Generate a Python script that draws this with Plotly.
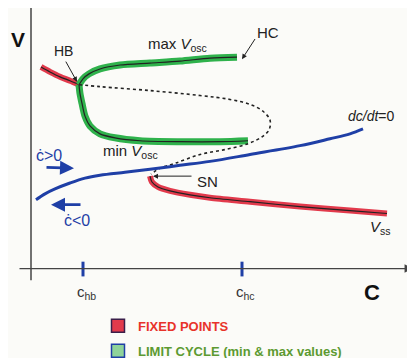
import plotly.graph_objects as go

# ---- data (c, V in arbitrary units) ----
fp_upper_c = [41, 50, 60, 70, 79]
fp_upper_v = [290, 285, 280, 276, 272]

lc_max_c = [79, 83, 89, 100, 120, 150, 180, 210, 237]
lc_max_v = [272, 278, 283, 288, 292, 294, 296, 299, 300]

lc_min_c = [79, 80, 82, 85, 90, 100, 115, 140, 180, 220, 248]
lc_min_v = [272, 263, 253, 240, 230, 222, 218, 215, 214, 214, 215]

unstable_c = [79, 100, 150, 200, 230, 250, 263, 270, 269, 262, 248, 225, 200, 175, 160, 151]
unstable_v = [272, 270, 266, 261, 257, 252, 245, 236, 226, 219, 212, 206, 201, 192, 187, 181]

nullcline_c = [36, 45, 55, 70, 85, 100, 125, 150, 180, 210, 250, 300, 330, 350, 363]
nullcline_v = [155, 161, 166, 172, 177, 180, 183, 186, 190, 194, 201, 210, 217, 222, 227]

fp_lower_c = [150, 152, 158, 170, 190, 210, 250, 300, 350, 387]
fp_lower_v = [179, 173, 168, 164, 160, 157, 153, 148, 144, 141]

tick_c = [83, 242]
tick_labels = ["c<sub>hb</sub>", "c<sub>hc</sub>"]

RED = "#e23a4c"
GREEN = "#2fb24c"
BLUE = "#1f3fa6"
DARK = "#222222"

fig = go.Figure()

def thick(c, v, color, w):
    fig.add_trace(go.Scatter(x=c, y=v, mode="lines",
                             line=dict(color=color, width=w, shape="spline", smoothing=0.8),
                             showlegend=False, hoverinfo="skip"))
    fig.add_trace(go.Scatter(x=c, y=v, mode="lines",
                             line=dict(color=DARK, width=1.2, shape="spline", smoothing=0.8),
                             showlegend=False, hoverinfo="skip"))

thick(fp_upper_c, fp_upper_v, RED, 6)
thick(fp_lower_c, fp_lower_v, RED, 6)
thick(lc_max_c, lc_max_v, GREEN, 7)
thick(lc_min_c, lc_min_v, GREEN, 7)

fig.add_trace(go.Scatter(x=unstable_c, y=unstable_v, mode="lines",
                         line=dict(color=DARK, width=1.6, dash="dot", shape="spline"),
                         showlegend=False, hoverinfo="skip"))
fig.add_trace(go.Scatter(x=nullcline_c, y=nullcline_v, mode="lines",
                         line=dict(color=BLUE, width=3, shape="spline"),
                         showlegend=False, hoverinfo="skip"))

# legend entries
fig.add_trace(go.Scatter(x=[None], y=[None], mode="markers",
                         marker=dict(symbol="square", size=13, color=RED, line=dict(color="#3a1f4a", width=1.5)),
                         name="<b><span style='color:#e8332a'>FIXED POINTS</span></b>", legendgroup="a"))
fig.add_trace(go.Scatter(x=[None], y=[None], mode="markers",
                         marker=dict(symbol="square", size=13, color="#8fd39a", line=dict(color=BLUE, width=1.5)),
                         name="<b><span style='color:#5c9a31'>LIMIT CYCLE (min &amp; max values)</span></b>", legendgroup="b"))

# axes drawn by hand
fig.add_shape(type="line", x0=31, x1=31, y0=73, y1=351, line=dict(color="#444", width=1.5))
fig.add_annotation(x=413, y=85, ax=18, ay=85, axref="x", ayref="y", xref="x", yref="y",
                   text="", showarrow=True, arrowhead=2, arrowsize=1.3, arrowwidth=1.3, arrowcolor="#444")
for c in tick_c:
    fig.add_shape(type="line", x0=c, x1=c, y0=77, y1=92, line=dict(color=BLUE, width=3))

F = "Liberation Sans, Arial, sans-serif"
for c, lab in zip(tick_c, tick_labels):
    fig.add_annotation(x=c + 3, y=61, text=lab, showarrow=False, font=dict(size=15, color="#333", family=F))

def txt(x, y, t, size=13, color="#222", **kw):
    fig.add_annotation(x=x, y=y, text=t, showarrow=False, font=dict(size=size, color=color, family=F), **kw)

txt(18, 318, "<b>V</b>", 21, "#111")
txt(372, 61, "<b>C</b>", 22, "#111")
txt(63, 306, "HB", 14)
txt(268, 325, "HC", 15)
txt(177, 313, "max <i>V</i><sub>osc</sub>", 15)
txt(130, 204, "min <i>V</i><sub>osc</sub>", 15)
txt(371, 240, "<i>dc/dt</i>=0", 14)
txt(380, 127, "<i>V</i><sub>ss</sub>", 15)
txt(207, 174, "SN", 15)
txt(49, 200, "ċ>0", 16, BLUE)
txt(77, 134, "ċ<0", 16, BLUE)

def arrow(x, y, ax, ay, color=DARK, w=1, size=1):
    fig.add_annotation(x=x, y=y, ax=ax, ay=ay, axref="x", ayref="y", xref="x", yref="y", text="",
                       showarrow=True, arrowhead=2, arrowsize=size, arrowwidth=w, arrowcolor=color)

arrow(77, 275, 65, 297)
arrow(242, 298, 256, 320)
arrow(153, 179, 193, 179)
arrow(74, 187, 45, 188, BLUE, 2.8, 1)
arrow(51, 150, 82, 150, BLUE, 2.8, 1)

fig.update_layout(
    width=415, height=358, margin=dict(l=0, r=0, t=0, b=0),
    paper_bgcolor="#fbfbf8", plot_bgcolor="#fbfbf8",
    # the page body adds an 8px offset; shift the visible window to compensate
    xaxis=dict(range=[8, 423], visible=False, fixedrange=True),
    yaxis=dict(range=[-8, 350], visible=False, fixedrange=True),
    showlegend=True,
    legend=dict(x=90 / 415, y=1 - 308 / 358, xanchor="left", yanchor="top", bgcolor="rgba(0,0,0,0)",
                font=dict(size=13, family=F), tracegroupgap=5, traceorder="grouped"),
    font=dict(family=F),
)

fig.write_html("out.html")
